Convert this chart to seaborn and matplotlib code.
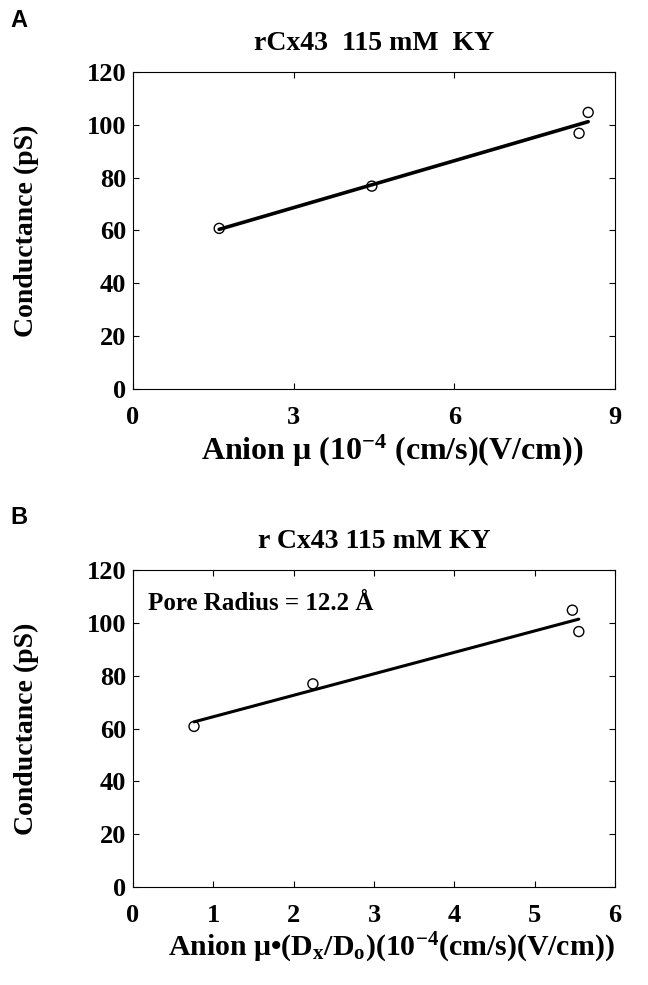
"""
Conductance of rCx43 channels in 115 mM KY against anion mobility.
"""
import matplotlib
matplotlib.use("Agg")
import matplotlib.pyplot as plt
import numpy as np
import seaborn as sns

# panel A: conductance vs anion mobility
mobility_a = [1.61, 4.46, 8.33, 8.50]
conductance_a = [60.8, 76.8, 96.8, 104.7]

# panel B: conductance vs hindrance-corrected mobility
mobility_b = [0.76, 2.24, 5.47, 5.55]
conductance_b = [60.8, 76.9, 104.8, 96.7]

xticks_a = [0, 3, 6, 9]
xticks_b = [0, 1, 2, 3, 4, 5, 6]
yticks = [0, 20, 40, 60, 80, 100, 120]


def style_axis(ax, xticks, xlabel, xlabel_size, title):
    ax.set_xlim(xticks[0], xticks[-1])
    ax.set_ylim(0, 120)
    ax.set_xticks(xticks)
    ax.set_yticks(yticks)
    ax.set_xlabel(xlabel, fontsize=xlabel_size, fontweight="bold", labelpad=3)
    ax.xaxis.label.set_x(0.537)
    ax.set_ylabel("Conductance (pS)", fontsize=20, fontweight="bold", labelpad=34)
    ax.set_title(title, fontsize=20, fontweight="bold", pad=16)
    ax.tick_params(direction="in", length=4, width=0.8, top=True, right=True,
                   labelsize=19, colors="black")
    ax.tick_params(axis="x", pad=12)
    ax.tick_params(axis="y", pad=5)
    for lab in ax.get_xticklabels() + ax.get_yticklabels():
        lab.set_fontweight("bold")
    for sp in ax.spines.values():
        sp.set_visible(True)
        sp.set_linewidth(0.8)
        sp.set_color("black")


def main():
    sns.set_style("ticks")
    plt.rcParams["font.family"] = ["Liberation Serif", "DejaVu Serif"]
    plt.rcParams["text.color"] = "black"
    plt.rcParams["axes.labelcolor"] = "black"
    plt.rcParams["mathtext.fontset"] = "custom"
    plt.rcParams["mathtext.rm"] = "Liberation Serif:bold"
    plt.rcParams["mathtext.bf"] = "Liberation Serif:bold"
    plt.rcParams["mathtext.it"] = "Liberation Serif:bold"
    plt.rcParams["mathtext.default"] = "bf"

    fig = plt.figure(figsize=(6.48, 9.85), dpi=100)
    ax_a = fig.add_axes([0.2052, 0.6051, 0.7438, 0.3218])
    ax_b = fig.add_axes([0.2052, 0.0995, 0.7438, 0.3218])

    scat = dict(facecolors="none", edgecolors="black", s=52, linewidths=1.0, alpha=1, zorder=2)

    sns.regplot(x=np.array(mobility_a), y=np.array(conductance_a), ax=ax_a, ci=None,
                color="black", scatter_kws=scat, line_kws=dict(lw=2.6, zorder=3))
    style_axis(ax_a, xticks_a, "Anion μ (10$^{-4}$ (cm/s)(V/cm))", 23, "rCx43  115 mM  KY")

    sns.regplot(x=np.array(mobility_b), y=np.array(conductance_b), ax=ax_b, ci=None,
                color="black", scatter_kws=scat, line_kws=dict(lw=2.2, zorder=3))
    style_axis(ax_b, xticks_b, "Anion μ•(D$_{x}$/D$_{o}$)(10$^{-4}$(cm/s)(V/cm))", 21.5,
               "r Cx43 115 mM KY")
    ax_b.text(0.19, 107.5, "Pore Radius = 12.2 Å", fontsize=18, fontweight="bold",
              va="center", ha="left")

    fig.text(0.016, 0.979, "A", family="Liberation Sans", fontsize=17, fontweight="bold",
             va="center")
    fig.text(0.016, 0.475, "B", family="Liberation Sans", fontsize=17, fontweight="bold",
             va="center")

    fig.savefig("out.png", dpi=100)


if __name__ == "__main__":
    main()
